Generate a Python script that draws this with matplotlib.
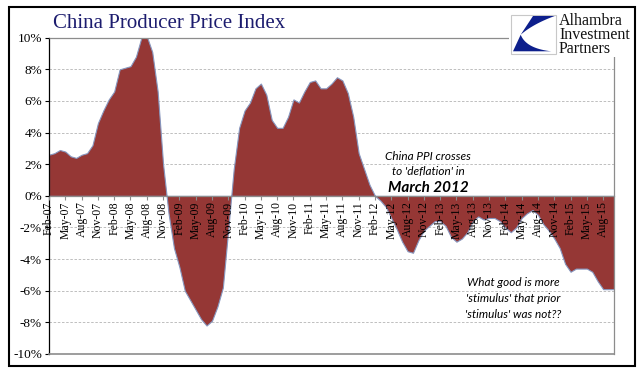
import numpy as np
import pandas as pd
import matplotlib.pyplot as plt
from matplotlib.patches import Rectangle, Polygon

# China PPI, y/y %, Feb-07 .. Oct-15
ppi = [2.6, 2.7, 2.9, 2.8, 2.5, 2.4, 2.6, 2.7, 3.2, 4.6, 5.4,
       6.1, 6.6, 8.0, 8.1, 8.2, 8.8, 10.0, 10.1, 9.1, 6.6, 2.0, -1.1,
       -3.3, -4.5, -6.0, -6.6, -7.2, -7.8, -8.2, -7.9, -7.0, -5.8, -2.1, 1.7,
       4.3, 5.4, 5.9, 6.8, 7.1, 6.4, 4.8, 4.3, 4.3, 5.0, 6.1, 5.9,
       6.6, 7.2, 7.3, 6.8, 6.8, 7.1, 7.5, 7.3, 6.5, 5.0, 2.7, 1.7,
       0.7, 0.0, -0.3, -0.7, -1.4, -2.1, -2.9, -3.5, -3.6, -2.8, -2.2, -1.9,
       -1.6, -1.6, -1.9, -2.6, -2.9, -2.7, -2.3, -1.6, -1.3, -1.5, -1.4, -1.4,
       -1.6, -2.0, -2.3, -2.0, -1.4, -1.1, -0.9, -1.2, -1.8, -2.2, -2.7, -3.3,
       -4.3, -4.8, -4.6, -4.6, -4.6, -4.8, -5.4, -5.9, -5.9, -5.9]
months = pd.date_range("2007-02-01", periods=len(ppi), freq="MS")
month_labels = list(months.strftime("%b-%y"))
yticks = list(range(-10, 11, 2))

W, H = 641, 379
serif = "Liberation Serif"
gray = "#8c8c8c"

def fy(py):
    return 1 - py / H

def bezier(p0, c, p1, n=20):
    p0, c, p1 = map(np.array, (p0, c, p1))
    return [(1 - s) ** 2 * p0 + 2 * (1 - s) * s * c + s ** 2 * p1
            for s in np.linspace(0, 1, n)]

fig = plt.figure(figsize=(W / 100, H / 100), dpi=100)
fig.patch.set_facecolor("white")

ax = fig.add_axes([49 / W, fy(354), (614 - 49) / W, (354 - 37.7) / H])
x = np.arange(len(ppi))
ax.fill_between(x, ppi, 0, facecolor="#953735", edgecolor="#8797bf",
                linewidth=0.8, zorder=1)
for v in yticks:
    if v not in (-10, 0, 10):
        ax.axhline(v, color="#b4b4b4", lw=0.6, ls=(0, (3, 2)), zorder=0.5)
ax.axhline(-10, color=gray, lw=1.2, zorder=3, clip_on=False)
ax.set_xlim(0, len(ppi) - 1)
ax.set_ylim(-10, 10)
ax.set_axisbelow(False)

ax.spines["bottom"].set_position(("data", 0))
ax.spines["bottom"].set_color(gray)
ax.spines["top"].set_color(gray)
ax.spines["right"].set_color(gray)
ax.spines["left"].set_color("black")
for s in ax.spines.values():
    s.set_linewidth(0.9)

ax.set_xticks(x[::3])
ax.set_xticklabels(month_labels[::3], rotation=90, fontfamily=serif, fontsize=8.5)
ax.tick_params(axis="x", direction="out", length=3, color=gray, pad=1)
ax.set_yticks(yticks)
ax.set_yticklabels([f"{v}%" for v in yticks], fontfamily=serif, fontsize=9.5)
ax.tick_params(axis="y", direction="out", length=3, pad=2)

# title
fig.text(53 / W, fy(24), "China Producer Price Index", fontfamily=serif,
         fontsize=15, color="#1c1c6e", va="center", ha="left")

# annotations
note = dict(fontfamily="Lato", style="italic", fontsize=8.5, ha="center", va="center")
fig.text(428 / W, fy(156), "China PPI crosses", **note)
fig.text(428 / W, fy(172), "to 'deflation' in", **note)
fig.text(428 / W, fy(188), "March 2012", fontfamily="Lato", style="italic",
         weight="bold", fontsize=11, ha="center", va="center")
fig.text(513 / W, fy(283), "What good is more", **note)
fig.text(513 / W, fy(298), "'stimulus' that prior", **note)
fig.text(513 / W, fy(314), "'stimulus' was not??", **note)

# logo
lax = fig.add_axes([509 / W, fy(57), 125 / W, 45 / H])
lax.set_xlim(509, 634)
lax.set_ylim(57, 12)
lax.set_axis_off()
lax.add_patch(Rectangle((509, 12), 125, 45, fc="white", ec="none"))
lax.add_patch(Rectangle((511, 14.5), 44.5, 39.5, fc="white", ec="#c8c8c8", lw=0.8))
blue = "#0d1f8c"
upper = [(533, 16), (554.7, 16)] + bezier((554.7, 16), (533, 24), (520.7, 34.7))
lax.add_patch(Polygon(upper, closed=True, fc=blue, ec="none"))
lower = [(520.7, 34.7), (513, 51.3), (551.3, 51.3)] + bezier((551.3, 51.3), (526, 48.5), (520.7, 34.7))
lax.add_patch(Polygon(lower, closed=True, fc=blue, ec="none"))
lax.text(559, 35, "Alhambra\nInvestment\nPartners", fontfamily=serif, fontsize=11.5,
         va="center", ha="left", color="#111111", linespacing=0.8)

# outer frame
fig.add_artist(Rectangle((9 / W, fy(366)), (635 - 9) / W, (366 - 7) / H,
                         transform=fig.transFigure, fill=False, ec="black", lw=1.5))

fig.savefig("out.png", dpi=100)
